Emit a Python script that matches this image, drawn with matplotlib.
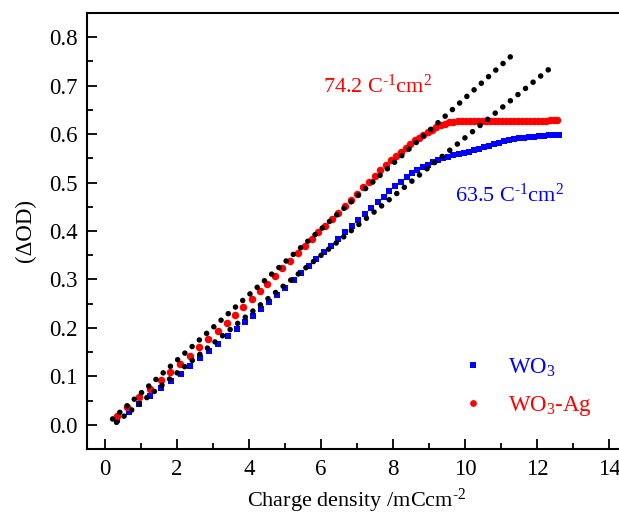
import matplotlib
matplotlib.use("Agg")
import matplotlib.pyplot as plt

plt.rcParams['font.family'] = ['Liberation Serif', 'DejaVu Serif']
plt.rcParams['mathtext.fontset'] = 'custom'
plt.rcParams['mathtext.rm'] = 'Liberation Serif'
plt.rcParams['mathtext.it'] = 'Liberation Serif:italic'

# WO3 (blue squares)
wo3_x = [0.34, 0.68, 0.95, 1.25, 1.56, 1.83, 2.11, 2.36, 2.64, 2.89,
         3.15, 3.41, 3.66, 3.89, 4.12, 4.32, 4.56, 4.77, 5.00, 5.24,
         5.45, 5.66, 5.87, 6.08, 6.28, 6.48, 6.67, 6.86, 7.04, 7.22,
         7.40, 7.57, 7.74, 7.90, 8.06, 8.22, 8.38, 8.53, 8.68, 8.83,
         8.98, 9.12, 9.26, 9.40, 9.54, 9.68, 9.82, 9.96, 10.10, 10.24,
         10.38, 10.52, 10.66, 10.80, 10.94, 11.08, 11.22, 11.36, 11.50, 11.64,
         11.78, 11.92, 12.06, 12.20, 12.34, 12.48, 12.60]
wo3_y = [0.010, 0.027, 0.043, 0.059, 0.076, 0.091, 0.105, 0.121, 0.138, 0.153,
         0.167, 0.184, 0.197, 0.212, 0.225, 0.239, 0.253, 0.267, 0.282, 0.298,
         0.313, 0.328, 0.342, 0.356, 0.370, 0.384, 0.397, 0.410, 0.423, 0.435,
         0.447, 0.459, 0.471, 0.482, 0.492, 0.502, 0.511, 0.519, 0.526, 0.532,
         0.537, 0.542, 0.546, 0.550, 0.553, 0.556, 0.559, 0.561, 0.564, 0.567,
         0.570, 0.573, 0.576, 0.579, 0.582, 0.585, 0.587, 0.589, 0.591, 0.592,
         0.594, 0.595, 0.596, 0.597, 0.598, 0.598, 0.599]

# WO3-Ag (red circles)
ag_x = [0.32, 0.62, 0.95, 1.25, 1.55, 1.80, 2.08, 2.36, 2.62, 2.87,
        3.13, 3.38, 3.61, 3.84, 4.09, 4.30, 4.49, 4.72, 4.93, 5.14,
        5.35, 5.55, 5.74, 5.93, 6.12, 6.30, 6.48, 6.66, 6.84, 7.01,
        7.18, 7.34, 7.50, 7.65, 7.80, 7.94, 8.08, 8.22, 8.35, 8.48,
        8.60, 8.72, 8.84, 8.96, 9.08, 9.20, 9.32, 9.44, 9.56, 9.68,
        9.80, 9.92, 10.04, 10.15, 10.26, 10.37, 10.48, 10.59, 10.70, 10.81,
        10.92, 11.03, 11.14, 11.25, 11.36, 11.47, 11.58, 11.69, 11.80, 11.91,
        12.02, 12.13, 12.24, 12.35, 12.46, 12.56]
ag_y = [0.019, 0.037, 0.057, 0.074, 0.092, 0.108, 0.125, 0.143, 0.160, 0.177,
        0.194, 0.211, 0.227, 0.243, 0.260, 0.276, 0.291, 0.307, 0.323, 0.339,
        0.354, 0.369, 0.383, 0.397, 0.411, 0.425, 0.438, 0.451, 0.464, 0.477,
        0.490, 0.502, 0.514, 0.525, 0.536, 0.546, 0.555, 0.564, 0.572, 0.580,
        0.587, 0.593, 0.599, 0.604, 0.609, 0.614, 0.618, 0.621, 0.624, 0.626,
        0.627, 0.628, 0.628, 0.628, 0.628, 0.627, 0.628, 0.628, 0.628, 0.628,
        0.627, 0.628, 0.628, 0.628, 0.628, 0.628, 0.628, 0.628, 0.628, 0.628,
        0.628, 0.628, 0.628, 0.629, 0.629, 0.629]

# linear fits (end points of the dotted lines)
fit_ag_x = [0.21, 11.37]
fit_ag_y = [0.012, 0.767]
fit_wo3_x = [0.32, 12.40]
fit_wo3_y = [0.005, 0.738]

xticks = [0, 2, 4, 6, 8, 10, 12, 14]
yticks = [0.0, 0.1, 0.2, 0.3, 0.4, 0.5, 0.6, 0.7, 0.8]

fig = plt.figure(figsize=(6.19, 5.15), dpi=100)
ax = fig.add_axes([87 / 619, 66 / 515, 540 / 619, 436 / 515])

ax.plot(wo3_x, wo3_y, 's', color='#0000ff', markersize=4.6, markeredgewidth=0,
        label='WO$_3$', zorder=2)
ax.plot(ag_x, ag_y, 'o', color='#ff0000', markersize=5.4, markeredgewidth=0,
        label='WO$_3$-Ag', zorder=2)

dots = (0, (0.01, 1.75))
ax.plot(fit_ag_x, fit_ag_y, color='black', linewidth=4.0, linestyle=dots,
        dash_capstyle='round', zorder=3)
ax.plot(fit_wo3_x, fit_wo3_y, color='black', linewidth=4.0, linestyle=dots,
        dash_capstyle='round', zorder=3)

ax.text(6.05, 0.698, r'74.2 C$^{\text{-}1}$cm$^{2}$', color='#ff0000', fontsize=16,
        ha='left', va='center')
ax.text(9.72, 0.473, r'63.5 C$^{\text{-}1}$cm$^{2}$', color='#0000ff', fontsize=16,
        ha='left', va='center')

ax.set_xlim(-0.5, 14.5)
ax.set_ylim(-0.05, 0.85)
ax.set_xticks(xticks)
ax.set_yticks(yticks)
ax.set_xticks([1, 3, 5, 7, 9, 11, 13], minor=True)
ax.set_yticks([-0.05, 0.05, 0.15, 0.25, 0.35, 0.45, 0.55, 0.65, 0.75], minor=True)
ax.set_xticklabels([str(t) for t in xticks])
ax.set_yticklabels([f"{t:.1f}" for t in yticks])
ax.tick_params(which='both', direction='in', width=1.3, labelsize=16.5)
ax.tick_params(which='major', length=7.5, pad=7)
ax.tick_params(which='minor', length=4)
for s in ax.spines.values():
    s.set_linewidth(1.5)

ax.set_xlabel(r'Charge density /mCcm$^{\text{-}2}$', fontsize=16, labelpad=5)
ax.set_ylabel('(ΔOD)', fontsize=16.5, labelpad=9)

leg = ax.legend(loc='upper left', bbox_to_anchor=(0.66, 0.26), frameon=False,
                fontsize=16.5, handlelength=0.8, handletextpad=1.1,
                labelspacing=0.68, markerscale=0.9)
leg.get_texts()[0].set_color('#0000ff')
leg.get_texts()[1].set_color('#ff0000')

fig.savefig('out.png', dpi=100)
